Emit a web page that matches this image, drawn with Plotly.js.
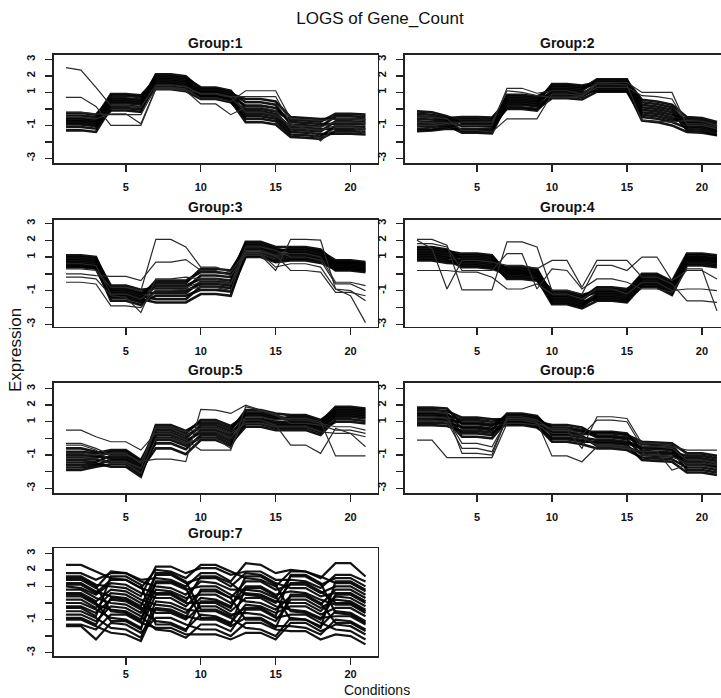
<!DOCTYPE html>
<html>
<head>
<meta charset="utf-8">
<script src="https://cdn.plot.ly/plotly-3.0.1.min.js"></script>
<style>html,body{margin:0;padding:0;background:#fff;}#chart{width:721px;height:698px;}</style>
</head>
<body>
<div id="chart"></div>
<script>
// ---------------- DATA ----------------
const conditions = [1,2,3,4,5,6,7,8,9,10,11,12,13,14,15,16,17,18,19,20,21];
const xTickVals = [5,10,15,20];
const yTickVals = [-3,-2,-1,0,1,2,3];
const yTickText = ['-3','','-1','','1','2','3'];
const groupNames = ['Group:1','Group:2','Group:3','Group:4','Group:5','Group:6','Group:7'];

const group1Core = [
[-0.25,-0.25,-0.35,0.65,0.65,0.57,2.0,2.0,1.88,1.3,1.3,1.1,0.0,0.0,-0.15,-0.65,-0.7,-0.77,-0.3,-0.3,-0.35],
[-0.4,-0.4,-0.5,0.9,0.9,0.82,1.8,1.8,1.68,1.1,1.1,0.9,0.6,0.6,0.45,-0.5,-0.55,-0.62,-0.6,-0.6,-0.65],
[-0.55,-0.55,-0.65,0.45,0.45,0.37,2.1,2.1,1.98,1.2,1.2,1.0,0.4,0.4,0.25,-0.95,-1.0,-1.07,-0.45,-0.45,-0.5],
[-0.65,-0.65,-0.75,0.8,0.8,0.72,1.6,1.6,1.48,0.95,0.95,0.75,0.2,0.2,0.05,-0.8,-0.85,-0.92,-0.9,-0.9,-0.95],
[-0.75,-0.75,-0.85,0.2,0.2,0.12,1.9,1.9,1.78,1.0,1.0,0.8,-0.3,-0.3,-0.45,-1.25,-1.3,-1.37,-0.75,-0.75,-0.8],
[-0.85,-0.85,-0.95,0.55,0.55,0.47,1.35,1.35,1.23,0.8,0.8,0.6,-0.15,-0.15,-0.3,-1.1,-1.15,-1.22,-1.2,-1.2,-1.25],
[-0.95,-0.95,-1.05,-0.1,-0.1,-0.18,1.7,1.7,1.58,0.85,0.85,0.65,-0.6,-0.6,-0.75,-1.55,-1.6,-1.67,-1.05,-1.05,-1.1],
[-1.1,-1.1,-1.2,0.35,0.35,0.27,1.2,1.2,1.08,0.6,0.6,0.4,-0.45,-0.45,-0.6,-1.4,-1.45,-1.52,-1.5,-1.5,-1.55],
[-1.3,-1.3,-1.4,0.05,0.05,-0.03,1.5,1.5,1.38,0.7,0.7,0.5,-0.8,-0.8,-0.95,-1.7,-1.75,-1.82,-1.35,-1.35,-1.4]
];
const group1Outliers = [
[2.5,2.35,1.3,0.2,0.2,0.1,1.45,1.45,1.35,0.9,0.9,0.7,-0.2,-0.2,-0.4,-1.0,-1.05,-1.1,-0.8,-0.8,-0.85],
[0.7,0.7,0.15,-1.0,-1.0,-1.0,1.2,1.2,1.1,0.3,0.3,-0.35,0.1,0.1,-0.1,-1.2,-1.2,-1.3,-1.0,-1.0,-1.55],
[-0.2,-0.2,-0.3,-0.35,-0.35,-0.35,1.3,1.3,1.2,0.65,0.65,0.45,1.1,1.1,1.1,-0.6,-0.65,-0.7,-0.6,-0.6,-0.65],
[-0.5,-0.5,-0.6,-0.3,-0.3,-0.9,1.25,1.25,1.15,0.95,0.95,0.75,0.75,0.75,0.75,-0.9,-1.2,-1.95,-1.1,-1.1,-1.2]
];

const group2Core = [
[-0.15,-0.2,-0.45,-0.85,-0.85,-0.88,0.75,0.75,0.65,1.3,1.3,1.22,1.8,1.8,1.8,-0.05,-0.15,-0.35,-0.62,-0.67,-0.92],
[-0.3,-0.35,-0.55,-0.5,-0.5,-0.53,0.45,0.45,0.35,1.5,1.5,1.42,1.6,1.6,1.6,0.4,0.3,0.1,-0.85,-0.9,-1.15],
[-0.45,-0.5,-0.65,-1.05,-1.05,-1.08,0.85,0.85,0.75,1.2,1.2,1.12,1.7,1.7,1.7,0.55,0.45,0.25,-0.5,-0.55,-0.8],
[-0.6,-0.65,-0.7,-0.62,-0.62,-0.65,0.55,0.55,0.45,1.0,1.0,0.92,1.4,1.4,1.4,0.25,0.15,-0.05,-1.05,-1.1,-1.35],
[-0.75,-0.8,-0.8,-1.32,-1.32,-1.35,0.65,0.65,0.55,1.4,1.4,1.32,1.5,1.5,1.5,-0.35,-0.45,-0.65,-0.75,-0.8,-1.05],
[-0.9,-0.95,-0.9,-0.75,-0.75,-0.78,0.25,0.25,0.15,0.8,0.8,0.72,1.3,1.3,1.3,0.1,0.0,-0.2,-1.28,-1.33,-1.58],
[-1.05,-1.1,-1.0,-1.45,-1.45,-1.48,0.35,0.35,0.25,1.1,1.1,1.02,1.1,1.1,1.1,-0.2,-0.3,-0.5,-0.95,-1.0,-1.25],
[-1.2,-1.25,-1.1,-0.95,-0.95,-0.98,0.0,0.0,-0.1,0.9,0.9,0.82,1.2,1.2,1.2,-0.7,-0.8,-1.0,-1.4,-1.45,-1.6],
[-1.35,-1.3,-1.2,-1.2,-1.2,-1.23,0.1,0.1,0.0,0.65,0.65,0.57,1.05,1.05,1.05,-0.5,-0.6,-0.8,-1.15,-1.2,-1.45]
];
const group2Outliers = [
[-0.8,-0.85,-0.85,-1.0,-1.0,-1.0,1.25,1.25,0.95,1.1,1.1,0.9,1.6,1.6,1.6,1.0,1.0,1.0,-1.0,-1.0,-1.2],
[-0.5,-0.5,-0.6,-1.3,-1.3,-1.4,-0.6,-0.6,-0.6,0.9,0.9,0.8,1.3,1.3,1.3,0.8,0.75,0.6,-0.9,-0.9,-1.1],
[-1.0,-1.0,-0.9,-0.8,-0.8,-0.8,1.1,1.0,0.8,0.7,0.7,0.75,1.5,1.5,1.45,-0.7,-0.75,-0.8,-0.7,-0.75,-1.0]
];

const group3Core = [
[1.1,1.1,1.0,-0.95,-0.95,-1.2,-0.55,-0.55,-0.55,0.3,0.3,0.2,1.6,1.6,1.3,1.5,1.5,1.35,0.8,0.8,0.7],
[1.0,1.0,0.9,-0.7,-0.7,-0.95,-0.85,-0.85,-0.85,-0.1,-0.1,-0.2,1.9,1.9,1.6,1.6,1.6,1.45,0.65,0.65,0.55],
[0.9,0.9,0.8,-1.15,-1.15,-1.4,-0.4,-0.4,-0.4,0.1,0.1,0.0,1.8,1.8,1.5,1.3,1.3,1.15,0.72,0.72,0.62],
[0.8,0.8,0.7,-0.85,-0.85,-1.1,-1.15,-1.15,-1.15,-0.45,-0.45,-0.55,1.7,1.7,1.4,1.4,1.4,1.25,0.5,0.5,0.4],
[0.7,0.7,0.6,-1.35,-1.35,-1.6,-0.7,-0.7,-0.7,-0.3,-0.3,-0.4,1.4,1.4,1.1,1.1,1.1,0.95,0.58,0.58,0.48],
[0.6,0.6,0.5,-1.05,-1.05,-1.3,-1.5,-1.5,-1.5,-0.75,-0.75,-0.85,1.5,1.5,1.2,1.2,1.2,1.05,0.35,0.35,0.25],
[0.55,0.55,0.45,-1.6,-1.6,-1.85,-1.0,-1.0,-1.0,-0.6,-0.6,-0.7,1.1,1.1,0.8,0.9,0.9,0.75,0.42,0.42,0.32],
[0.45,0.45,0.35,-1.25,-1.25,-1.5,-1.7,-1.7,-1.7,-1.2,-1.2,-1.3,1.25,1.25,0.95,1.0,1.0,0.85,0.2,0.2,0.1],
[0.4,0.4,0.3,-1.45,-1.45,-1.7,-1.3,-1.3,-1.3,-0.95,-0.95,-1.05,1.0,1.0,0.7,0.8,0.8,0.65,0.28,0.28,0.18]
];
const group3Outliers = [
[0.3,0.3,0.2,-0.8,-0.8,-1.0,2.05,2.05,1.6,0.4,0.4,0.1,1.3,1.3,1.1,1.2,1.2,1.0,-0.5,-0.5,-0.7],
[0.0,0.0,-0.1,-0.15,-0.15,-0.4,0.7,0.7,0.85,0.2,0.2,-0.1,1.1,1.1,0.2,2.05,2.05,2.0,-0.9,-1.0,-1.6],
[-0.2,-0.2,-0.3,-1.3,-1.4,-2.3,-0.3,-0.3,-0.2,-0.3,-0.3,-0.6,1.2,1.2,0.4,0.6,0.6,0.4,-0.9,-1.3,-2.9],
[-0.5,-0.5,-0.6,-1.9,-1.9,-2.0,-1.0,-1.0,-0.9,-0.8,-0.8,-1.0,1.4,1.4,1.1,0.2,0.2,0.1,-1.1,-1.1,-1.3],
[0.6,0.6,0.5,-1.2,-1.2,-1.5,-0.8,-0.8,-0.8,-0.5,-0.5,-0.6,1.6,1.6,1.4,1.0,1.0,0.8,-0.6,-0.6,-1.0]
];

const group4Core = [
[1.6,1.6,1.45,0.9,0.9,0.8,0.3,0.3,0.2,-1.2,-1.2,-1.45,-0.8,-0.8,-0.9,-0.4,-0.4,-0.85,1.1,1.1,1.0],
[1.5,1.5,1.35,1.2,1.2,1.1,0.05,0.05,-0.05,-1.0,-1.0,-1.25,-1.0,-1.0,-1.1,-0.1,-0.1,-0.55,0.95,0.95,0.85],
[1.4,1.4,1.25,0.7,0.7,0.6,0.4,0.4,0.3,-1.3,-1.3,-1.55,-0.9,-0.9,-1.0,0.0,0.0,-0.45,1.2,1.2,1.1],
[1.3,1.3,1.15,1.1,1.1,1.0,0.15,0.15,0.05,-1.5,-1.5,-1.75,-1.2,-1.2,-1.3,-0.2,-0.2,-0.65,0.8,0.8,0.7],
[1.2,1.2,1.05,0.5,0.5,0.4,0.2,0.2,0.1,-1.1,-1.1,-1.35,-1.1,-1.1,-1.2,-0.6,-0.6,-1.05,1.0,1.0,0.9],
[1.1,1.1,0.95,1.0,1.0,0.9,-0.1,-0.1,-0.2,-1.7,-1.7,-1.95,-1.3,-1.3,-1.4,-0.3,-0.3,-0.75,0.6,0.6,0.5],
[1.0,1.0,0.85,0.4,0.4,0.3,0.0,0.0,-0.1,-1.4,-1.4,-1.65,-1.5,-1.5,-1.6,-0.5,-0.5,-0.95,0.85,0.85,0.75],
[0.9,0.9,0.75,0.8,0.8,0.7,-0.3,-0.3,-0.4,-1.6,-1.6,-1.85,-1.4,-1.4,-1.5,-0.8,-0.8,-1.25,0.5,0.5,0.4],
[0.8,0.8,0.65,0.6,0.6,0.5,-0.2,-0.2,-0.3,-1.8,-1.8,-2.05,-1.6,-1.6,-1.7,-0.7,-0.7,-1.15,0.7,0.7,0.6]
];
const group4Outliers = [
[0.2,0.2,0.2,0.1,0.1,-0.2,-0.9,-0.9,-0.6,-1.2,-1.2,-1.5,-0.9,-0.9,-1.2,-0.5,-0.5,-1.0,-0.9,-0.9,-1.0],
[2.0,1.5,-0.9,0.8,0.8,0.7,0.5,0.5,0.3,0.8,0.8,-0.8,0.8,0.8,0.8,-0.2,-0.2,-0.6,-1.6,-1.6,-1.7],
[2.05,2.05,1.7,-0.95,-0.95,-0.95,1.9,1.9,1.6,-1.0,-1.0,-1.2,0.5,0.5,0.2,1.0,1.0,-0.4,0.2,0.2,-0.3],
[1.8,1.8,1.6,0.2,0.2,0.2,1.2,1.2,-0.9,0.3,0.2,-0.9,-0.3,-0.3,-0.5,-0.9,-0.9,-1.1,0.3,0.3,-2.2]
];

const group5Core = [
[-0.6,-0.6,-0.8,-0.95,-0.95,-1.55,0.65,0.65,0.3,1.1,1.1,0.75,1.35,1.35,1.15,1.3,1.3,1.0,1.9,1.9,1.8],
[-0.8,-0.8,-0.9,-0.7,-0.7,-1.3,0.35,0.35,0.0,0.8,0.8,0.45,1.7,1.7,1.5,1.4,1.4,1.1,1.7,1.7,1.6],
[-1.0,-1.0,-1.05,-1.2,-1.2,-1.8,0.8,0.8,0.45,0.95,0.95,0.6,1.55,1.55,1.35,1.1,1.1,0.8,1.8,1.8,1.7],
[-1.15,-1.15,-1.15,-0.8,-0.8,-1.4,0.05,0.05,-0.3,0.5,0.5,0.15,1.45,1.45,1.25,1.2,1.2,0.9,1.5,1.5,1.4],
[-1.3,-1.3,-1.25,-1.45,-1.45,-2.05,0.5,0.5,0.15,0.65,0.65,0.3,1.1,1.1,0.9,0.9,0.9,0.6,1.6,1.6,1.5],
[-1.45,-1.45,-1.4,-1.05,-1.05,-1.65,-0.3,-0.3,-0.65,0.2,0.2,-0.15,1.2,1.2,1.0,1.0,1.0,0.7,1.3,1.3,1.2],
[-1.6,-1.6,-1.5,-1.7,-1.7,-2.3,0.2,0.2,-0.15,0.35,0.35,0.0,0.85,0.85,0.65,0.65,0.65,0.35,1.4,1.4,1.3],
[-1.75,-1.75,-1.6,-1.3,-1.3,-1.9,-0.6,-0.6,-0.95,-0.1,-0.1,-0.45,1.0,1.0,0.8,0.8,0.8,0.5,1.0,1.0,0.9],
[-1.9,-1.9,-1.7,-1.55,-1.55,-2.15,-0.1,-0.1,-0.45,0.05,0.05,-0.3,0.7,0.7,0.5,0.5,0.5,0.2,1.15,1.15,1.05]
];
const group5Outliers = [
[0.5,0.5,0.1,-0.2,-0.2,-0.7,0.3,0.3,-0.1,-0.7,-0.7,-0.7,1.9,1.7,1.4,0.9,0.9,0.8,0.5,0.5,0.3],
[-0.3,-0.3,-0.6,-1.0,-1.0,-1.4,-1.25,-1.25,-1.4,1.75,1.7,1.5,2.0,1.7,1.45,1.1,1.1,0.9,0.7,0.7,0.5],
[-0.4,-0.4,-0.7,-1.4,-1.4,-1.8,0.6,0.6,0.2,0.4,0.4,0.0,1.1,1.1,0.8,-0.4,-0.4,-0.9,0.6,0.3,-0.5],
[-1.1,-1.1,-1.2,-1.5,-1.5,-2.1,0.0,0.0,-0.3,0.0,0.0,-0.6,1.3,1.3,1.1,1.2,1.2,1.0,-1.05,-1.05,-1.05],
[-0.9,-0.9,-1.0,-0.9,-0.9,-1.5,0.7,0.7,0.4,0.6,0.6,0.3,0.9,0.9,0.7,0.7,0.7,0.4,0.3,0.3,0.1]
];

const group6Core = [
[1.85,1.85,1.8,0.85,0.85,0.75,1.4,1.4,1.25,0.55,0.55,0.4,0.4,0.4,0.3,-0.75,-0.8,-0.85,-1.05,-1.05,-1.2],
[1.7,1.7,1.65,1.25,1.25,1.15,1.15,1.15,1.0,0.8,0.8,0.65,0.15,0.15,0.05,-0.35,-0.4,-0.45,-1.35,-1.35,-1.5],
[1.55,1.55,1.5,0.6,0.6,0.5,1.5,1.5,1.35,0.4,0.4,0.25,0.3,0.3,0.2,-0.2,-0.25,-0.3,-0.9,-0.9,-1.05],
[1.45,1.45,1.4,1.1,1.1,1.0,1.2,1.2,1.05,0.2,0.2,0.05,-0.1,-0.1,-0.2,-0.5,-0.55,-0.6,-1.6,-1.6,-1.75],
[1.35,1.35,1.3,0.3,0.3,0.2,1.3,1.3,1.15,0.65,0.65,0.5,0.05,0.05,-0.05,-1.0,-1.05,-1.1,-1.2,-1.2,-1.35],
[1.2,1.2,1.15,0.95,0.95,0.85,1.0,1.0,0.85,-0.05,-0.05,-0.2,-0.2,-0.2,-0.3,-0.6,-0.65,-0.7,-1.9,-1.9,-2.05],
[1.1,1.1,1.05,0.1,0.1,0.0,1.05,1.05,0.9,0.3,0.3,0.15,-0.45,-0.45,-0.55,-0.85,-0.9,-0.95,-1.5,-1.5,-1.65],
[0.95,0.95,0.9,0.7,0.7,0.6,0.8,0.8,0.65,0.05,0.05,-0.1,-0.3,-0.3,-0.4,-1.3,-1.35,-1.4,-2.05,-2.05,-2.2],
[0.8,0.8,0.75,0.45,0.45,0.35,0.9,0.9,0.75,-0.2,-0.2,-0.35,-0.6,-0.6,-0.7,-1.15,-1.2,-1.25,-1.75,-1.75,-1.9]
];
const group6Outliers = [
[-0.1,-0.1,-1.15,-1.15,-1.15,-1.15,0.9,0.9,0.8,0.3,0.3,0.1,-0.4,-0.4,-0.5,-1.0,-1.0,-1.1,-1.5,-1.5,-1.6],
[1.1,1.1,1.0,-0.6,-0.6,-0.8,1.2,1.2,1.0,-1.05,-1.05,-1.4,-0.5,-0.5,-0.6,-0.8,-0.8,-1.9,-1.6,-1.6,-1.8],
[1.6,1.6,1.5,-0.9,-0.9,-1.0,1.3,1.3,1.1,0.5,0.5,-0.6,1.3,1.3,1.2,-0.3,-0.3,-0.5,-0.7,-0.7,-0.7],
[1.3,1.3,1.2,-0.3,-0.3,-0.5,1.1,1.1,0.9,0.6,0.6,0.2,1.1,1.1,1.0,-0.5,-0.5,-0.6,-1.3,-1.3,-1.5]
];

const group7Lines = [
[2.3,2.3,1.9,1.5,1.4,0.9,2.0,1.9,1.5,2.3,2.3,1.9,1.5,1.4,1.0,1.9,1.9,1.5,2.4,2.4,1.6],
[1.8,1.8,1.4,1.8,1.8,1.4,1.5,1.4,1.0,1.8,1.8,1.3,2.4,2.3,1.8,2.0,1.9,1.6,1.2,1.2,0.7],
[1.6,1.6,1.1,1.0,0.9,0.4,2.2,2.2,1.8,2.1,2.1,1.7,1.9,1.9,1.4,1.4,1.3,0.9,1.7,1.7,1.3],
[1.4,1.4,0.9,1.9,1.8,1.3,1.0,0.9,0.5,1.3,1.2,0.8,0.8,0.7,0.3,1.6,1.6,1.1,1.5,1.5,1.0],
[1.2,1.2,0.7,0.4,0.3,-0.2,1.7,1.7,1.2,1.5,1.5,1.0,1.8,1.7,1.2,0.9,0.9,0.4,0.6,0.6,0.1],
[1.0,0.9,0.5,1.2,1.1,0.6,0.3,0.3,-0.2,0.7,0.7,0.3,1.3,1.3,0.8,1.1,1.1,0.6,1.0,1.0,0.5],
[0.8,0.8,0.3,0.0,-0.1,-0.6,1.2,1.2,0.8,1.0,1.0,0.5,0.1,0.0,-0.4,0.4,0.4,-0.1,0.8,0.8,0.3],
[0.6,0.6,0.1,0.8,0.7,0.2,-0.1,-0.2,-0.6,0.3,0.2,-0.2,1.0,1.0,0.5,0.7,0.6,0.2,-0.1,-0.1,-0.6],
[0.4,0.4,-0.1,-0.4,-0.5,-1.0,0.8,0.7,0.3,0.5,0.5,0.0,0.6,0.5,0.1,0.0,0.0,-0.5,0.4,0.3,-0.2],
[0.2,0.2,-0.3,0.6,0.5,0.0,-0.6,-0.6,-1.0,-0.2,-0.2,-0.7,-0.6,-0.7,-1.1,0.2,0.2,-0.3,0.2,0.1,-0.4],
[0.0,0.0,-0.4,-0.9,-1.0,-1.5,0.5,0.5,0.0,0.0,0.0,-0.5,0.3,0.3,-0.2,-0.4,-0.5,-0.9,-0.8,-0.8,-1.3],
[-0.2,-0.2,-0.6,0.2,0.1,-0.4,-1.1,-1.2,-1.6,-0.7,-0.8,-1.2,-0.1,-0.2,-0.6,-0.2,-0.2,-0.7,-0.3,-0.3,-0.8],
[-0.5,-0.5,-0.9,-1.5,-1.6,-2.1,0.1,0.0,-0.4,-0.5,-0.5,-0.9,-1.5,-1.6,-2.0,-0.9,-1.0,-1.4,-0.5,-0.6,-1.1],
[-0.7,-0.7,-1.1,-0.2,-0.3,-0.8,-1.6,-1.7,-2.1,-1.3,-1.3,-1.7,-0.4,-0.4,-0.9,-0.7,-0.7,-1.2,-1.6,-1.7,-2.2],
[-1.0,-1.0,-1.4,-1.8,-1.9,-2.3,-0.3,-0.4,-0.8,-1.0,-1.0,-1.4,-0.9,-0.9,-1.4,-1.4,-1.5,-1.9,-1.0,-1.1,-1.6],
[-1.3,-1.3,-1.6,-0.7,-0.7,-1.2,-1.5,-1.5,-1.9,-1.9,-1.9,-2.2,-1.8,-1.8,-2.2,-1.2,-1.2,-1.7,-1.3,-1.4,-1.9],
[-1.4,-1.4,-2.2,-1.2,-1.3,-1.8,-0.9,-0.9,-1.3,-1.6,-1.6,-2.0,-1.2,-1.2,-1.6,-1.7,-1.7,-2.2,-1.9,-2.0,-2.5],
[1.1,1.1,0.6,1.4,1.4,0.9,0.6,0.6,0.1,1.6,1.6,1.2,0.5,0.4,0.0,1.2,1.2,0.7,0.0,0.0,-0.5],
[-0.9,-0.9,-1.3,0.3,0.2,-0.3,-0.4,-0.5,-0.9,0.8,0.8,0.3,-1.0,-1.0,-1.5,0.5,0.5,0.0,-1.2,-1.2,-1.7],
[0.5,0.5,0.0,-1.1,-1.1,-1.6,1.3,1.3,0.9,-0.9,-0.9,-1.3,0.9,0.9,0.4,-1.0,-1.0,-1.5,1.3,1.3,0.8],
[-0.3,-0.3,-0.8,1.6,1.6,1.1,-1.3,-1.3,-1.7,0.1,0.1,-0.3,1.6,1.6,1.1,-0.5,-0.6,-1.0,0.5,0.5,0.0],
[1.5,1.5,1.0,-0.5,-0.6,-1.1,1.8,1.8,1.3,-0.4,-0.4,-0.8,-0.3,-0.3,-0.8,1.7,1.7,1.2,-0.6,-0.7,-1.2]
];

// ---------------- LAYOUT ----------------
const W = 721, H = 698;
const colPx = [[54, 377.5, [0.2, 21.8]], [405, 721, [0.2, 21.27]]];
const rowPx = [[54.5, 163.3, [-3.3, 3.3]], [220, 326.7, [-3.14, 3.2]], [383, 493.3, [-3.3, 3.33]], [548.3, 656, [-3.2, 3.3]]];
const titleY = [42.7, 207, 370, 533];
const colCenter = [215.75, 567];

const groupCore = [group1Core, group2Core, group3Core, group4Core, group5Core, group6Core, group7Lines];
const groupOut = [group1Outliers, group2Outliers, group3Outliers, group4Outliers, group5Outliers, group6Outliers, []];

const traces = [];
const layout = {
  width: W, height: H,
  margin: {l: 0, r: 0, t: 0, b: 0},
  paper_bgcolor: '#fff', plot_bgcolor: '#fff',
  showlegend: false,
  font: {family: 'Liberation Sans, Arial, sans-serif', color: '#111'},
  title: {text: 'LOGS of Gene_Count', x: 380 / W, xref: 'paper', y: 1 - 18 / H, yref: 'container',
          xanchor: 'center', yanchor: 'middle', font: {size: 17, color: '#111'}},
  annotations: []
};

const tickFont = {family: 'Liberation Sans, Arial, sans-serif', size: 11, weight: 700, color: '#111'};

for (let g = 0; g < 7; g++) {
  const col = g % 2, row = Math.floor(g / 2);
  const ax = g === 0 ? '' : String(g + 1);
  const [x0, x1, xr] = colPx[col];
  const [y0, y1, yr] = rowPx[row];
  layout['xaxis' + ax] = {
    domain: [x0 / W, x1 / W], range: xr, anchor: 'y' + ax,
    showgrid: false, zeroline: false, showline: true, mirror: true,
    linecolor: '#222', linewidth: 1.6,
    tickvals: xTickVals, ticks: 'outside', ticklen: 7, tickwidth: 1.4, tickcolor: '#222',
    tickfont: tickFont, ticklabelstandoff: row === 3 ? 0 : 6, fixedrange: true
  };
  layout['yaxis' + ax] = {
    domain: [1 - y1 / H, 1 - y0 / H], range: yr, anchor: 'x' + ax,
    showgrid: false, zeroline: false, showline: true, mirror: col === 0,
    linecolor: '#222', linewidth: 1.6,
    tickvals: yTickVals, ticktext: yTickText, ticks: 'outside', ticklen: 7, tickwidth: 1.4, tickcolor: '#222',
    tickangle: -90, tickfont: tickFont, ticklabelstandoff: 6, fixedrange: true
  };
  layout.annotations.push({
    text: groupNames[g], xref: 'paper', yref: 'paper',
    x: colCenter[col] / W, y: 1 - titleY[row] / H, xanchor: 'center', yanchor: 'middle',
    showarrow: false, font: {size: 14, weight: 700, color: '#111'}
  });
  const coreWidth = g === 6 ? 2.2 : 2.6;
  groupCore[g].forEach(vals => traces.push({
    x: conditions, y: vals, xaxis: 'x' + ax, yaxis: 'y' + ax, type: 'scatter', mode: 'lines',
    line: {color: 'rgba(0,0,0,0.92)', width: coreWidth}, hoverinfo: 'skip'
  }));
  groupOut[g].forEach(vals => traces.push({
    x: conditions, y: vals, xaxis: 'x' + ax, yaxis: 'y' + ax, type: 'scatter', mode: 'lines',
    line: {color: '#2a2a2a', width: 1.2}, hoverinfo: 'skip'
  }));
}

layout.annotations.push({
  text: 'Expression', xref: 'paper', yref: 'paper', x: 15 / W, y: 1 - 350 / H,
  xanchor: 'center', yanchor: 'middle', textangle: -90, showarrow: false,
  font: {size: 17, color: '#111'}
});
layout.annotations.push({
  text: 'Conditions', xref: 'paper', yref: 'paper', x: 377 / W, y: 1 - 690 / H,
  xanchor: 'center', yanchor: 'middle', showarrow: false,
  font: {size: 14, color: '#111'}
});

Plotly.newPlot('chart', traces, layout, {staticPlot: true, displayModeBar: false});
</script>
</body>
</html>
